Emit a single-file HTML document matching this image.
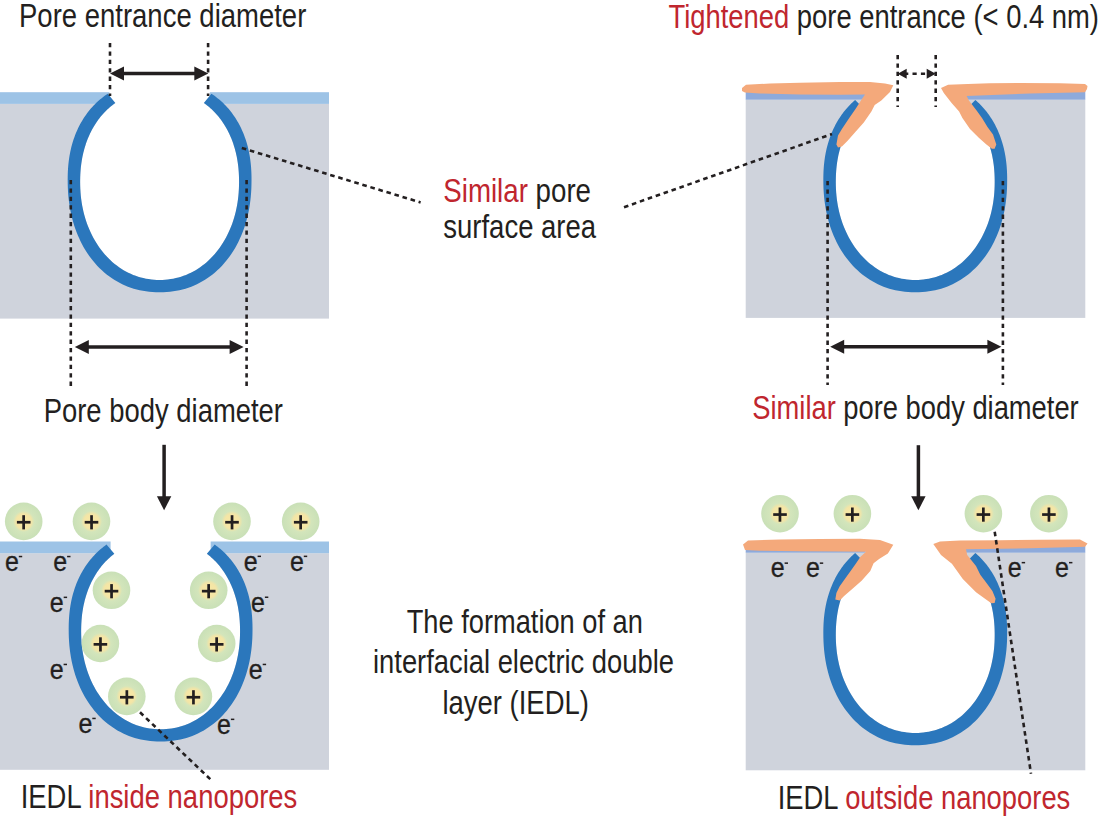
<!DOCTYPE html>
<html><head><meta charset="utf-8"><style>
html,body{margin:0;padding:0;background:#fff;}
svg{display:block;font-family:"Liberation Sans",sans-serif;}
</style></head><body>
<svg width="1114" height="822" viewBox="0 0 1114 822">
<rect width="1114" height="822" fill="#fff"/>
<defs><radialGradient id="ionG" cx="0.5" cy="0.5" r="0.5"><stop offset="0" stop-color="#f8e8a4"/><stop offset="0.40" stop-color="#f4e5a6"/><stop offset="0.56" stop-color="#d3e5bb"/><stop offset="1" stop-color="#c9e0b7"/></radialGradient></defs>
<rect x="0" y="103.9" width="329" height="214.70000000000002" fill="#cfd3dc"/><rect x="0" y="92.2" width="109.69999999999999" height="11.7" fill="#9dc3e6"/><rect x="209.5" y="92.2" width="119.5" height="11.7" fill="#9dc3e6"/><path d="M115.36,102.91 L114.00,103.90 L112.66,104.92 L111.34,105.97 L110.04,107.06 L108.76,108.17 L107.51,109.32 L106.29,110.50 L105.08,111.71 L103.90,112.96 L102.75,114.23 L101.62,115.53 L100.52,116.86 L99.44,118.22 L98.39,119.61 L97.36,121.03 L96.37,122.47 L95.40,123.94 L94.45,125.44 L93.54,126.97 L92.65,128.52 L91.79,130.10 L90.96,131.70 L90.16,133.33 L89.39,134.98 L88.64,136.65 L87.93,138.35 L87.25,140.07 L86.60,141.82 L85.97,143.59 L85.38,145.38 L84.82,147.19 L84.29,149.03 L83.79,150.88 L83.32,152.76 L82.89,154.66 L82.48,156.58 L82.11,158.52 L81.77,160.49 L81.46,162.48 L81.19,164.49 L80.94,166.53 L80.73,168.59 L80.55,170.69 L80.41,172.82 L80.29,175.00 L80.21,177.24 L80.16,179.56 L80.14,182.14 L80.19,185.70 L80.31,189.11 L80.52,192.45 L80.80,195.75 L81.17,199.01 L81.62,202.22 L82.16,205.41 L82.77,208.55 L83.46,211.65 L84.23,214.72 L85.08,217.74 L86.01,220.71 L87.01,223.64 L88.09,226.52 L89.25,229.34 L90.48,232.11 L91.78,234.83 L93.15,237.48 L94.59,240.08 L96.10,242.61 L97.68,245.07 L99.32,247.47 L101.03,249.79 L102.80,252.05 L104.63,254.22 L106.52,256.33 L108.47,258.35 L110.47,260.29 L112.53,262.15 L114.63,263.92 L116.79,265.61 L119.00,267.21 L121.25,268.72 L123.54,270.15 L125.88,271.48 L128.26,272.71 L130.68,273.85 L133.13,274.90 L135.62,275.85 L138.14,276.70 L140.70,277.45 L143.28,278.11 L145.90,278.66 L148.54,279.12 L151.22,279.47 L153.94,279.73 L156.70,279.88 L159.60,279.93 L162.50,279.88 L165.26,279.73 L167.98,279.47 L170.66,279.12 L173.30,278.66 L175.92,278.11 L178.50,277.45 L181.06,276.70 L183.58,275.85 L186.07,274.90 L188.52,273.85 L190.94,272.71 L193.32,271.48 L195.66,270.15 L197.95,268.72 L200.20,267.21 L202.41,265.61 L204.57,263.92 L206.67,262.15 L208.73,260.29 L210.73,258.35 L212.68,256.33 L214.57,254.22 L216.40,252.05 L218.17,249.79 L219.88,247.47 L221.52,245.07 L223.10,242.61 L224.61,240.08 L226.05,237.48 L227.42,234.83 L228.72,232.11 L229.95,229.34 L231.11,226.52 L232.19,223.64 L233.19,220.71 L234.12,217.74 L234.97,214.72 L235.74,211.65 L236.43,208.55 L237.04,205.41 L237.58,202.22 L238.03,199.01 L238.40,195.75 L238.68,192.45 L238.89,189.11 L239.01,185.70 L239.06,182.14 L239.04,179.56 L238.99,177.24 L238.91,175.00 L238.79,172.82 L238.65,170.69 L238.47,168.59 L238.26,166.53 L238.01,164.49 L237.74,162.48 L237.43,160.49 L237.09,158.52 L236.72,156.58 L236.31,154.66 L235.88,152.76 L235.41,150.88 L234.91,149.03 L234.38,147.19 L233.82,145.38 L233.23,143.59 L232.60,141.82 L231.95,140.07 L231.27,138.35 L230.56,136.65 L229.81,134.98 L229.04,133.33 L228.24,131.70 L227.41,130.10 L226.55,128.52 L225.66,126.97 L224.75,125.44 L223.80,123.94 L222.83,122.47 L221.84,121.03 L220.81,119.61 L219.76,118.22 L218.68,116.86 L217.58,115.53 L216.45,114.23 L215.30,112.96 L214.12,111.71 L212.91,110.50 L211.69,109.32 L210.44,108.17 L209.16,107.06 L207.86,105.97 L206.54,104.92 L205.20,103.90 L203.84,102.91 Z" fill="#fff"/><rect x="109.6" y="90" width="100" height="15" fill="#fff"/><path d="M107.79,93.71 L106.23,94.76 L104.69,95.85 L103.18,96.98 L101.70,98.14 L100.24,99.33 L98.81,100.56 L97.41,101.82 L96.03,103.11 L94.69,104.44 L93.37,105.80 L92.08,107.20 L90.82,108.62 L89.60,110.08 L88.40,111.57 L87.23,113.09 L86.10,114.64 L84.99,116.22 L83.92,117.83 L82.88,119.47 L81.87,121.14 L80.89,122.84 L79.95,124.56 L79.04,126.32 L78.16,128.10 L77.32,129.90 L76.51,131.74 L75.73,133.60 L74.99,135.49 L74.29,137.40 L73.62,139.34 L72.98,141.31 L72.38,143.30 L71.81,145.32 L71.28,147.36 L70.79,149.43 L70.33,151.53 L69.91,153.65 L69.52,155.81 L69.17,157.99 L68.86,160.20 L68.58,162.45 L68.34,164.73 L68.14,167.06 L67.98,169.43 L67.85,171.87 L67.75,174.39 L67.70,177.03 L67.68,180.05 L67.73,184.59 L67.86,188.75 L68.10,192.76 L68.42,196.67 L68.83,200.51 L69.34,204.28 L69.93,207.99 L70.62,211.63 L71.40,215.22 L72.26,218.75 L73.22,222.22 L74.26,225.63 L75.38,228.97 L76.60,232.25 L77.90,235.47 L79.28,238.61 L80.74,241.69 L82.29,244.69 L83.91,247.63 L85.61,250.48 L87.39,253.26 L89.25,255.95 L91.18,258.57 L93.18,261.10 L95.26,263.54 L97.40,265.90 L99.61,268.16 L101.88,270.33 L104.22,272.41 L106.63,274.40 L109.09,276.28 L111.61,278.07 L114.19,279.75 L116.82,281.34 L119.51,282.82 L122.25,284.19 L125.04,285.47 L127.89,286.63 L130.78,287.68 L133.72,288.63 L136.71,289.47 L139.74,290.20 L142.83,290.81 L145.98,291.32 L149.19,291.71 L152.47,291.99 L155.88,292.16 L159.60,292.22 L163.32,292.16 L166.73,291.99 L170.01,291.71 L173.22,291.32 L176.37,290.81 L179.46,290.20 L182.49,289.47 L185.48,288.63 L188.42,287.68 L191.31,286.63 L194.16,285.47 L196.95,284.19 L199.69,282.82 L202.38,281.34 L205.01,279.75 L207.59,278.07 L210.11,276.28 L212.57,274.40 L214.98,272.41 L217.32,270.33 L219.59,268.16 L221.80,265.90 L223.94,263.54 L226.02,261.10 L228.02,258.57 L229.95,255.95 L231.81,253.26 L233.59,250.48 L235.29,247.63 L236.91,244.69 L238.46,241.69 L239.92,238.61 L241.30,235.47 L242.60,232.25 L243.82,228.97 L244.94,225.63 L245.98,222.22 L246.94,218.75 L247.80,215.22 L248.58,211.63 L249.27,207.99 L249.86,204.28 L250.37,200.51 L250.78,196.67 L251.10,192.76 L251.34,188.75 L251.47,184.59 L251.52,180.05 L251.50,177.03 L251.45,174.39 L251.35,171.87 L251.22,169.43 L251.06,167.06 L250.86,164.73 L250.62,162.45 L250.34,160.20 L250.03,157.99 L249.68,155.81 L249.29,153.65 L248.87,151.53 L248.41,149.43 L247.92,147.36 L247.39,145.32 L246.82,143.30 L246.22,141.31 L245.58,139.34 L244.91,137.40 L244.21,135.49 L243.47,133.60 L242.69,131.74 L241.88,129.90 L241.04,128.10 L240.16,126.32 L239.25,124.56 L238.31,122.84 L237.33,121.14 L236.32,119.47 L235.28,117.83 L234.21,116.22 L233.10,114.64 L231.97,113.09 L230.80,111.57 L229.60,110.08 L228.38,108.62 L227.12,107.20 L225.83,105.80 L224.51,104.44 L223.17,103.11 L221.79,101.82 L220.39,100.56 L218.96,99.33 L217.50,98.14 L216.02,96.98 L214.51,95.85 L212.97,94.76 L211.41,93.71 L203.84,102.91 L205.20,103.90 L206.54,104.92 L207.86,105.97 L209.16,107.06 L210.44,108.17 L211.69,109.32 L212.91,110.50 L214.12,111.71 L215.30,112.96 L216.45,114.23 L217.58,115.53 L218.68,116.86 L219.76,118.22 L220.81,119.61 L221.84,121.03 L222.83,122.47 L223.80,123.94 L224.75,125.44 L225.66,126.97 L226.55,128.52 L227.41,130.10 L228.24,131.70 L229.04,133.33 L229.81,134.98 L230.56,136.65 L231.27,138.35 L231.95,140.07 L232.60,141.82 L233.23,143.59 L233.82,145.38 L234.38,147.19 L234.91,149.03 L235.41,150.88 L235.88,152.76 L236.31,154.66 L236.72,156.58 L237.09,158.52 L237.43,160.49 L237.74,162.48 L238.01,164.49 L238.26,166.53 L238.47,168.59 L238.65,170.69 L238.79,172.82 L238.91,175.00 L238.99,177.24 L239.04,179.56 L239.06,182.14 L239.01,185.70 L238.89,189.11 L238.68,192.45 L238.40,195.75 L238.03,199.01 L237.58,202.22 L237.04,205.41 L236.43,208.55 L235.74,211.65 L234.97,214.72 L234.12,217.74 L233.19,220.71 L232.19,223.64 L231.11,226.52 L229.95,229.34 L228.72,232.11 L227.42,234.83 L226.05,237.48 L224.61,240.08 L223.10,242.61 L221.52,245.07 L219.88,247.47 L218.17,249.79 L216.40,252.05 L214.57,254.22 L212.68,256.33 L210.73,258.35 L208.73,260.29 L206.67,262.15 L204.57,263.92 L202.41,265.61 L200.20,267.21 L197.95,268.72 L195.66,270.15 L193.32,271.48 L190.94,272.71 L188.52,273.85 L186.07,274.90 L183.58,275.85 L181.06,276.70 L178.50,277.45 L175.92,278.11 L173.30,278.66 L170.66,279.12 L167.98,279.47 L165.26,279.73 L162.50,279.88 L159.60,279.93 L156.70,279.88 L153.94,279.73 L151.22,279.47 L148.54,279.12 L145.90,278.66 L143.28,278.11 L140.70,277.45 L138.14,276.70 L135.62,275.85 L133.13,274.90 L130.68,273.85 L128.26,272.71 L125.88,271.48 L123.54,270.15 L121.25,268.72 L119.00,267.21 L116.79,265.61 L114.63,263.92 L112.53,262.15 L110.47,260.29 L108.47,258.35 L106.52,256.33 L104.63,254.22 L102.80,252.05 L101.03,249.79 L99.32,247.47 L97.68,245.07 L96.10,242.61 L94.59,240.08 L93.15,237.48 L91.78,234.83 L90.48,232.11 L89.25,229.34 L88.09,226.52 L87.01,223.64 L86.01,220.71 L85.08,217.74 L84.23,214.72 L83.46,211.65 L82.77,208.55 L82.16,205.41 L81.62,202.22 L81.17,199.01 L80.80,195.75 L80.52,192.45 L80.31,189.11 L80.19,185.70 L80.14,182.14 L80.16,179.56 L80.21,177.24 L80.29,175.00 L80.41,172.82 L80.55,170.69 L80.73,168.59 L80.94,166.53 L81.19,164.49 L81.46,162.48 L81.77,160.49 L82.11,158.52 L82.48,156.58 L82.89,154.66 L83.32,152.76 L83.79,150.88 L84.29,149.03 L84.82,147.19 L85.38,145.38 L85.97,143.59 L86.60,141.82 L87.25,140.07 L87.93,138.35 L88.64,136.65 L89.39,134.98 L90.16,133.33 L90.96,131.70 L91.79,130.10 L92.65,128.52 L93.54,126.97 L94.45,125.44 L95.40,123.94 L96.37,122.47 L97.36,121.03 L98.39,119.61 L99.44,118.22 L100.52,116.86 L101.62,115.53 L102.75,114.23 L103.90,112.96 L105.08,111.71 L106.29,110.50 L107.51,109.32 L108.76,108.17 L110.04,107.06 L111.34,105.97 L112.66,104.92 L114.00,103.90 L115.36,102.91 Z" fill="#2b77bc"/>
<line x1="110" y1="43" x2="110" y2="96" stroke="#231f20" stroke-width="2.6" stroke-dasharray="4.3 4.1"/>
<line x1="208.1" y1="43" x2="208.1" y2="96" stroke="#231f20" stroke-width="2.6" stroke-dasharray="4.3 4.1"/>
<line x1="123" y1="73.6" x2="195.3" y2="73.6" stroke="#231f20" stroke-width="3.5"/><path d="M110,73.6 L124,66.6 L124,80.6 Z" fill="#231f20"/><path d="M208.3,73.6 L194.3,66.6 L194.3,80.6 Z" fill="#231f20"/>
<line x1="70.8" y1="180" x2="70.8" y2="386" stroke="#231f20" stroke-width="2.6" stroke-dasharray="4.3 4.1"/>
<line x1="246.6" y1="180" x2="246.6" y2="386" stroke="#231f20" stroke-width="2.6" stroke-dasharray="4.3 4.1"/>
<line x1="87.8" y1="347" x2="230.6" y2="347" stroke="#231f20" stroke-width="3.5"/><path d="M74.8,347 L88.8,340 L88.8,354 Z" fill="#231f20"/><path d="M243.6,347 L229.6,340 L229.6,354 Z" fill="#231f20"/>
<text x="19" y="26.5" textLength="287.3" lengthAdjust="spacingAndGlyphs" font-size="33" fill="#231f20">Pore entrance diameter</text>
<text x="43.7" y="421.6" textLength="239.3" lengthAdjust="spacingAndGlyphs" font-size="33" fill="#231f20">Pore body diameter</text>
<line x1="241.8" y1="148" x2="420.6" y2="202.4" stroke="#231f20" stroke-width="2.6" stroke-dasharray="4.6 3.8"/>
<text x="443.3" y="201.7" textLength="147.7" lengthAdjust="spacingAndGlyphs" font-size="33"><tspan fill="#c0262e">Similar</tspan><tspan fill="#231f20"> pore</tspan></text>
<text x="443.3" y="237.6" textLength="152.8" lengthAdjust="spacingAndGlyphs" font-size="33" fill="#231f20">surface area</text>
<rect x="745.7" y="99.5" width="339.6" height="218.39999999999998" fill="#cfd3dc"/><rect x="745.7" y="91" width="120" height="8.7" fill="#8eaadb"/><rect x="966" y="91" width="119.3" height="8.7" fill="#8eaadb"/><path d="M863.79,108.74 L862.69,109.77 L861.61,110.82 L860.55,111.90 L859.51,113.00 L858.49,114.13 L857.49,115.28 L856.50,116.45 L855.54,117.64 L854.60,118.86 L853.68,120.10 L852.78,121.36 L851.90,122.65 L851.04,123.95 L850.20,125.28 L849.39,126.63 L848.60,127.99 L847.82,129.38 L847.08,130.79 L846.35,132.22 L845.65,133.66 L844.97,135.13 L844.31,136.61 L843.68,138.12 L843.07,139.64 L842.48,141.18 L841.92,142.73 L841.38,144.31 L840.87,145.90 L840.38,147.51 L839.91,149.14 L839.47,150.78 L839.05,152.44 L838.66,154.12 L838.29,155.81 L837.95,157.52 L837.63,159.25 L837.34,161.00 L837.07,162.77 L836.83,164.55 L836.61,166.35 L836.42,168.18 L836.26,170.03 L836.11,171.91 L836.00,173.82 L835.91,175.76 L835.85,177.76 L835.81,179.83 L835.79,182.14 L835.84,185.70 L835.96,189.11 L836.17,192.45 L836.45,195.75 L836.82,199.01 L837.27,202.22 L837.81,205.41 L838.42,208.55 L839.11,211.65 L839.88,214.72 L840.73,217.74 L841.66,220.71 L842.66,223.64 L843.74,226.52 L844.90,229.34 L846.13,232.11 L847.43,234.83 L848.80,237.48 L850.24,240.08 L851.75,242.61 L853.33,245.07 L854.97,247.47 L856.68,249.79 L858.45,252.05 L860.28,254.22 L862.17,256.33 L864.12,258.35 L866.12,260.29 L868.18,262.15 L870.28,263.92 L872.44,265.61 L874.65,267.21 L876.90,268.72 L879.19,270.15 L881.53,271.48 L883.91,272.71 L886.33,273.85 L888.78,274.90 L891.27,275.85 L893.79,276.70 L896.35,277.45 L898.93,278.11 L901.55,278.66 L904.19,279.12 L906.87,279.47 L909.59,279.73 L912.35,279.88 L915.25,279.93 L918.15,279.88 L920.91,279.73 L923.63,279.47 L926.31,279.12 L928.95,278.66 L931.57,278.11 L934.15,277.45 L936.71,276.70 L939.23,275.85 L941.72,274.90 L944.17,273.85 L946.59,272.71 L948.97,271.48 L951.31,270.15 L953.60,268.72 L955.85,267.21 L958.06,265.61 L960.22,263.92 L962.32,262.15 L964.38,260.29 L966.38,258.35 L968.33,256.33 L970.22,254.22 L972.05,252.05 L973.82,249.79 L975.53,247.47 L977.17,245.07 L978.75,242.61 L980.26,240.08 L981.70,237.48 L983.07,234.83 L984.37,232.11 L985.60,229.34 L986.76,226.52 L987.84,223.64 L988.84,220.71 L989.77,217.74 L990.62,214.72 L991.39,211.65 L992.08,208.55 L992.69,205.41 L993.23,202.22 L993.68,199.01 L994.05,195.75 L994.33,192.45 L994.54,189.11 L994.66,185.70 L994.71,182.14 L994.69,179.83 L994.65,177.76 L994.59,175.76 L994.50,173.82 L994.39,171.91 L994.24,170.03 L994.08,168.18 L993.89,166.35 L993.67,164.55 L993.43,162.77 L993.16,161.00 L992.87,159.25 L992.55,157.52 L992.21,155.81 L991.84,154.12 L991.45,152.44 L991.03,150.78 L990.59,149.14 L990.12,147.51 L989.63,145.90 L989.12,144.31 L988.58,142.73 L988.02,141.18 L987.43,139.64 L986.82,138.12 L986.19,136.61 L985.53,135.13 L984.85,133.66 L984.15,132.22 L983.42,130.79 L982.68,129.38 L981.90,127.99 L981.11,126.63 L980.30,125.28 L979.46,123.95 L978.60,122.65 L977.72,121.36 L976.82,120.10 L975.90,118.86 L974.96,117.64 L974.00,116.45 L973.01,115.28 L972.01,114.13 L970.99,113.00 L969.95,111.90 L968.89,110.82 L967.81,109.77 L966.71,108.74 Z" fill="#fff"/><rect x="866" y="99" width="98" height="16" fill="#fff"/><path d="M855.18,99.93 L853.92,101.03 L852.69,102.16 L851.48,103.31 L850.29,104.49 L849.12,105.70 L847.98,106.93 L846.86,108.18 L845.76,109.46 L844.69,110.77 L843.64,112.10 L842.61,113.45 L841.61,114.83 L840.63,116.23 L839.68,117.66 L838.76,119.10 L837.86,120.57 L836.98,122.07 L836.13,123.58 L835.30,125.12 L834.51,126.68 L833.73,128.26 L832.99,129.86 L832.27,131.48 L831.58,133.13 L830.91,134.79 L830.27,136.48 L829.66,138.18 L829.08,139.91 L828.52,141.65 L827.99,143.42 L827.49,145.21 L827.02,147.02 L826.57,148.84 L826.16,150.69 L825.77,152.56 L825.41,154.45 L825.08,156.37 L824.78,158.31 L824.50,160.27 L824.26,162.26 L824.04,164.28 L823.85,166.33 L823.69,168.41 L823.56,170.54 L823.46,172.72 L823.39,174.98 L823.34,177.35 L823.33,180.05 L823.38,184.59 L823.51,188.75 L823.75,192.76 L824.07,196.67 L824.48,200.51 L824.99,204.28 L825.58,207.99 L826.27,211.63 L827.05,215.22 L827.91,218.75 L828.87,222.22 L829.91,225.63 L831.03,228.97 L832.25,232.25 L833.55,235.47 L834.93,238.61 L836.39,241.69 L837.94,244.69 L839.56,247.63 L841.26,250.48 L843.04,253.26 L844.90,255.95 L846.83,258.57 L848.83,261.10 L850.91,263.54 L853.05,265.90 L855.26,268.16 L857.53,270.33 L859.87,272.41 L862.28,274.40 L864.74,276.28 L867.26,278.07 L869.84,279.75 L872.47,281.34 L875.16,282.82 L877.90,284.19 L880.69,285.47 L883.54,286.63 L886.43,287.68 L889.37,288.63 L892.36,289.47 L895.39,290.20 L898.48,290.81 L901.63,291.32 L904.84,291.71 L908.12,291.99 L911.53,292.16 L915.25,292.22 L918.97,292.16 L922.38,291.99 L925.66,291.71 L928.87,291.32 L932.02,290.81 L935.11,290.20 L938.14,289.47 L941.13,288.63 L944.07,287.68 L946.96,286.63 L949.81,285.47 L952.60,284.19 L955.34,282.82 L958.03,281.34 L960.66,279.75 L963.24,278.07 L965.76,276.28 L968.22,274.40 L970.63,272.41 L972.97,270.33 L975.24,268.16 L977.45,265.90 L979.59,263.54 L981.67,261.10 L983.67,258.57 L985.60,255.95 L987.46,253.26 L989.24,250.48 L990.94,247.63 L992.56,244.69 L994.11,241.69 L995.57,238.61 L996.95,235.47 L998.25,232.25 L999.47,228.97 L1000.59,225.63 L1001.63,222.22 L1002.59,218.75 L1003.45,215.22 L1004.23,211.63 L1004.92,207.99 L1005.51,204.28 L1006.02,200.51 L1006.43,196.67 L1006.75,192.76 L1006.99,188.75 L1007.12,184.59 L1007.17,180.05 L1007.16,177.35 L1007.11,174.98 L1007.04,172.72 L1006.94,170.54 L1006.81,168.41 L1006.65,166.33 L1006.46,164.28 L1006.24,162.26 L1006.00,160.27 L1005.72,158.31 L1005.42,156.37 L1005.09,154.45 L1004.73,152.56 L1004.34,150.69 L1003.93,148.84 L1003.48,147.02 L1003.01,145.21 L1002.51,143.42 L1001.98,141.65 L1001.42,139.91 L1000.84,138.18 L1000.23,136.48 L999.59,134.79 L998.92,133.13 L998.23,131.48 L997.51,129.86 L996.77,128.26 L995.99,126.68 L995.20,125.12 L994.37,123.58 L993.52,122.07 L992.64,120.57 L991.74,119.10 L990.82,117.66 L989.87,116.23 L988.89,114.83 L987.89,113.45 L986.86,112.10 L985.81,110.77 L984.74,109.46 L983.64,108.18 L982.52,106.93 L981.38,105.70 L980.21,104.49 L979.02,103.31 L977.81,102.16 L976.58,101.03 L975.32,99.93 L966.71,108.74 L967.81,109.77 L968.89,110.82 L969.95,111.90 L970.99,113.00 L972.01,114.13 L973.01,115.28 L974.00,116.45 L974.96,117.64 L975.90,118.86 L976.82,120.10 L977.72,121.36 L978.60,122.65 L979.46,123.95 L980.30,125.28 L981.11,126.63 L981.90,127.99 L982.68,129.38 L983.42,130.79 L984.15,132.22 L984.85,133.66 L985.53,135.13 L986.19,136.61 L986.82,138.12 L987.43,139.64 L988.02,141.18 L988.58,142.73 L989.12,144.31 L989.63,145.90 L990.12,147.51 L990.59,149.14 L991.03,150.78 L991.45,152.44 L991.84,154.12 L992.21,155.81 L992.55,157.52 L992.87,159.25 L993.16,161.00 L993.43,162.77 L993.67,164.55 L993.89,166.35 L994.08,168.18 L994.24,170.03 L994.39,171.91 L994.50,173.82 L994.59,175.76 L994.65,177.76 L994.69,179.83 L994.71,182.14 L994.66,185.70 L994.54,189.11 L994.33,192.45 L994.05,195.75 L993.68,199.01 L993.23,202.22 L992.69,205.41 L992.08,208.55 L991.39,211.65 L990.62,214.72 L989.77,217.74 L988.84,220.71 L987.84,223.64 L986.76,226.52 L985.60,229.34 L984.37,232.11 L983.07,234.83 L981.70,237.48 L980.26,240.08 L978.75,242.61 L977.17,245.07 L975.53,247.47 L973.82,249.79 L972.05,252.05 L970.22,254.22 L968.33,256.33 L966.38,258.35 L964.38,260.29 L962.32,262.15 L960.22,263.92 L958.06,265.61 L955.85,267.21 L953.60,268.72 L951.31,270.15 L948.97,271.48 L946.59,272.71 L944.17,273.85 L941.72,274.90 L939.23,275.85 L936.71,276.70 L934.15,277.45 L931.57,278.11 L928.95,278.66 L926.31,279.12 L923.63,279.47 L920.91,279.73 L918.15,279.88 L915.25,279.93 L912.35,279.88 L909.59,279.73 L906.87,279.47 L904.19,279.12 L901.55,278.66 L898.93,278.11 L896.35,277.45 L893.79,276.70 L891.27,275.85 L888.78,274.90 L886.33,273.85 L883.91,272.71 L881.53,271.48 L879.19,270.15 L876.90,268.72 L874.65,267.21 L872.44,265.61 L870.28,263.92 L868.18,262.15 L866.12,260.29 L864.12,258.35 L862.17,256.33 L860.28,254.22 L858.45,252.05 L856.68,249.79 L854.97,247.47 L853.33,245.07 L851.75,242.61 L850.24,240.08 L848.80,237.48 L847.43,234.83 L846.13,232.11 L844.90,229.34 L843.74,226.52 L842.66,223.64 L841.66,220.71 L840.73,217.74 L839.88,214.72 L839.11,211.65 L838.42,208.55 L837.81,205.41 L837.27,202.22 L836.82,199.01 L836.45,195.75 L836.17,192.45 L835.96,189.11 L835.84,185.70 L835.79,182.14 L835.81,179.83 L835.85,177.76 L835.91,175.76 L836.00,173.82 L836.11,171.91 L836.26,170.03 L836.42,168.18 L836.61,166.35 L836.83,164.55 L837.07,162.77 L837.34,161.00 L837.63,159.25 L837.95,157.52 L838.29,155.81 L838.66,154.12 L839.05,152.44 L839.47,150.78 L839.91,149.14 L840.38,147.51 L840.87,145.90 L841.38,144.31 L841.92,142.73 L842.48,141.18 L843.07,139.64 L843.68,138.12 L844.31,136.61 L844.97,135.13 L845.65,133.66 L846.35,132.22 L847.08,130.79 L847.82,129.38 L848.60,127.99 L849.39,126.63 L850.20,125.28 L851.04,123.95 L851.90,122.65 L852.78,121.36 L853.68,120.10 L854.60,118.86 L855.54,117.64 L856.50,116.45 L857.49,115.28 L858.49,114.13 L859.51,113.00 L860.55,111.90 L861.61,110.82 L862.69,109.77 L863.79,108.74 Z" fill="#2b77bc"/><path d="M742,88 L746,84.8 L770,83.5 L800,82.8 L840,82 L870,82 L885,83.5 L893.3,85.3 L890,91.9 L881.3,100.6 L874.7,105 L871.4,111.6 L863.8,122.5 L856,131.3 L847.4,141.1 L841.9,146.6 L838,147.5 L836.4,144.4 L838,135.6 L841.9,129 L848.4,119.2 L856,108.3 L861.6,99.5 L865,94.5 L840,94.8 L800,94.6 L760,93.5 L745,92.5 L742,91 Z" fill="#f4a97b"/><path d="M941,88 L948.1,84.8 L967.8,84 L989.7,83.3 L1020,83 L1060,83.3 L1085,84 L1087.5,86 L1087,89 L1085,92.3 L1030,93.5 L966.7,96 L968.9,100.6 L976.6,110.5 L982,118.1 L987.5,126.9 L993,134.6 L996.3,144.4 L994.6,148.8 L991.9,148.8 L986.4,144.4 L978.8,137.8 L970,129.1 L962.4,118.1 L959.1,111.6 L951.4,102.8 L943.8,93 Z" fill="#f4a97b"/>
<line x1="624" y1="207.2" x2="832" y2="134" stroke="#231f20" stroke-width="2.6" stroke-dasharray="4.6 3.8"/>
<line x1="897.7" y1="55" x2="897.7" y2="107" stroke="#231f20" stroke-width="2.6" stroke-dasharray="4.3 4.1"/>
<line x1="935.7" y1="55" x2="935.7" y2="107" stroke="#231f20" stroke-width="2.6" stroke-dasharray="4.3 4.1"/>
<line x1="905.7" y1="73.7" x2="927.7" y2="73.7" stroke="#231f20" stroke-width="2.5" stroke-dasharray="2.6 4.2 4.2 4.2 4.2 4.2"/><path d="M897.7,73.7 L906.7,68.7 L906.7,78.7 Z" fill="#231f20"/><path d="M935.7,73.7 L926.7,68.7 L926.7,78.7 Z" fill="#231f20"/>
<line x1="827.6" y1="181" x2="827.6" y2="385" stroke="#231f20" stroke-width="2.6" stroke-dasharray="4.3 4.1"/>
<line x1="1002.9" y1="181" x2="1002.9" y2="385" stroke="#231f20" stroke-width="2.6" stroke-dasharray="4.3 4.1"/>
<line x1="843.2" y1="346.7" x2="988.4" y2="346.7" stroke="#231f20" stroke-width="3.5"/><path d="M830.2,346.7 L844.2,339.7 L844.2,353.7 Z" fill="#231f20"/><path d="M1001.4,346.7 L987.4,339.7 L987.4,353.7 Z" fill="#231f20"/>
<text x="668.5" y="27.7" textLength="430.5" lengthAdjust="spacingAndGlyphs" font-size="33"><tspan fill="#c0262e">Tightened</tspan><tspan fill="#231f20"> pore entrance (&lt; 0.4 nm)</tspan></text>
<text x="752.3" y="419.1" textLength="326.4" lengthAdjust="spacingAndGlyphs" font-size="33"><tspan fill="#c0262e">Similar</tspan><tspan fill="#231f20"> pore body diameter</tspan></text>
<line x1="164.1" y1="444.8" x2="164.1" y2="498.3" stroke="#231f20" stroke-width="3.5"/><path d="M164.1,510.3 L156.9,496.3 L171.29999999999998,496.3 Z" fill="#231f20"/>
<line x1="918.4" y1="445.2" x2="918.4" y2="498.3" stroke="#231f20" stroke-width="3.5"/><path d="M918.4,510.3 L911.1999999999999,496.3 L925.6,496.3 Z" fill="#231f20"/>
<rect x="0" y="553.2" width="329" height="216.6" fill="#cfd3dc"/><rect x="0" y="541.5" width="111.1" height="11.7" fill="#9dc3e6"/><rect x="210.1" y="541.5" width="118.9" height="11.7" fill="#9dc3e6"/><path d="M114.35,553.69 L113.06,554.69 L111.79,555.72 L110.54,556.79 L109.31,557.88 L108.11,559.01 L106.93,560.16 L105.77,561.34 L104.63,562.55 L103.52,563.79 L102.43,565.06 L101.36,566.35 L100.32,567.68 L99.30,569.02 L98.31,570.40 L97.35,571.80 L96.41,573.23 L95.49,574.68 L94.60,576.16 L93.74,577.66 L92.90,579.18 L92.10,580.73 L91.31,582.30 L90.56,583.90 L89.83,585.52 L89.13,587.16 L88.46,588.82 L87.82,590.50 L87.21,592.21 L86.62,593.94 L86.07,595.68 L85.54,597.45 L85.04,599.24 L84.57,601.05 L84.13,602.88 L83.72,604.73 L83.34,606.60 L82.99,608.49 L82.67,610.40 L82.38,612.33 L82.12,614.29 L81.89,616.27 L81.70,618.28 L81.53,620.32 L81.39,622.39 L81.28,624.51 L81.21,626.68 L81.16,628.93 L81.14,631.44 L81.19,635.00 L81.31,638.41 L81.52,641.75 L81.80,645.05 L82.17,648.31 L82.62,651.52 L83.16,654.71 L83.77,657.85 L84.46,660.95 L85.23,664.02 L86.08,667.04 L87.01,670.01 L88.01,672.94 L89.09,675.82 L90.25,678.64 L91.48,681.41 L92.78,684.13 L94.15,686.78 L95.59,689.38 L97.10,691.91 L98.68,694.37 L100.32,696.77 L102.03,699.09 L103.80,701.35 L105.63,703.52 L107.52,705.63 L109.47,707.65 L111.47,709.59 L113.53,711.45 L115.63,713.22 L117.79,714.91 L120.00,716.51 L122.25,718.02 L124.54,719.45 L126.88,720.78 L129.26,722.01 L131.68,723.15 L134.13,724.20 L136.62,725.15 L139.14,726.00 L141.70,726.75 L144.28,727.41 L146.90,727.96 L149.54,728.42 L152.22,728.77 L154.94,729.03 L157.70,729.18 L160.60,729.23 L163.50,729.18 L166.26,729.03 L168.98,728.77 L171.66,728.42 L174.30,727.96 L176.92,727.41 L179.50,726.75 L182.06,726.00 L184.58,725.15 L187.07,724.20 L189.52,723.15 L191.94,722.01 L194.32,720.78 L196.66,719.45 L198.95,718.02 L201.20,716.51 L203.41,714.91 L205.57,713.22 L207.67,711.45 L209.73,709.59 L211.73,707.65 L213.68,705.63 L215.57,703.52 L217.40,701.35 L219.17,699.09 L220.88,696.77 L222.52,694.37 L224.10,691.91 L225.61,689.38 L227.05,686.78 L228.42,684.13 L229.72,681.41 L230.95,678.64 L232.11,675.82 L233.19,672.94 L234.19,670.01 L235.12,667.04 L235.97,664.02 L236.74,660.95 L237.43,657.85 L238.04,654.71 L238.58,651.52 L239.03,648.31 L239.40,645.05 L239.68,641.75 L239.89,638.41 L240.01,635.00 L240.06,631.44 L240.04,628.93 L239.99,626.68 L239.92,624.51 L239.81,622.39 L239.67,620.32 L239.50,618.28 L239.31,616.27 L239.08,614.29 L238.82,612.33 L238.53,610.40 L238.21,608.49 L237.86,606.60 L237.48,604.73 L237.07,602.88 L236.63,601.05 L236.16,599.24 L235.66,597.45 L235.13,595.68 L234.58,593.94 L233.99,592.21 L233.38,590.50 L232.74,588.82 L232.07,587.16 L231.37,585.52 L230.64,583.90 L229.89,582.30 L229.10,580.73 L228.30,579.18 L227.46,577.66 L226.60,576.16 L225.71,574.68 L224.79,573.23 L223.85,571.80 L222.89,570.40 L221.90,569.02 L220.88,567.68 L219.84,566.35 L218.77,565.06 L217.68,563.79 L216.57,562.55 L215.43,561.34 L214.27,560.16 L213.09,559.01 L211.89,557.88 L210.66,556.79 L209.41,555.72 L208.14,554.69 L206.85,553.69 Z" fill="#fff"/><rect x="110.6" y="539.3" width="100" height="15" fill="#fff"/><path d="M106.48,544.59 L105.01,545.66 L103.55,546.76 L102.12,547.90 L100.72,549.07 L99.34,550.27 L97.99,551.50 L96.67,552.77 L95.37,554.06 L94.10,555.39 L92.86,556.74 L91.65,558.13 L90.46,559.55 L89.30,560.99 L88.17,562.47 L87.07,563.97 L86.00,565.50 L84.96,567.06 L83.95,568.65 L82.97,570.26 L82.02,571.91 L81.10,573.57 L80.22,575.27 L79.36,576.99 L78.53,578.73 L77.74,580.50 L76.98,582.30 L76.25,584.12 L75.55,585.97 L74.89,587.84 L74.26,589.73 L73.66,591.65 L73.09,593.59 L72.56,595.56 L72.06,597.55 L71.60,599.57 L71.17,601.61 L70.77,603.68 L70.41,605.78 L70.08,607.90 L69.79,610.05 L69.53,612.24 L69.30,614.46 L69.11,616.72 L68.96,619.03 L68.84,621.40 L68.75,623.85 L68.70,626.41 L68.68,629.35 L68.73,633.89 L68.86,638.05 L69.10,642.06 L69.42,645.97 L69.83,649.81 L70.34,653.58 L70.93,657.29 L71.62,660.93 L72.40,664.52 L73.26,668.05 L74.22,671.52 L75.26,674.93 L76.38,678.27 L77.60,681.55 L78.90,684.77 L80.28,687.91 L81.74,690.99 L83.29,693.99 L84.91,696.93 L86.61,699.78 L88.39,702.56 L90.25,705.25 L92.18,707.87 L94.18,710.40 L96.26,712.84 L98.40,715.20 L100.61,717.46 L102.88,719.63 L105.22,721.71 L107.63,723.70 L110.09,725.58 L112.61,727.37 L115.19,729.05 L117.82,730.64 L120.51,732.12 L123.25,733.49 L126.04,734.77 L128.89,735.93 L131.78,736.98 L134.72,737.93 L137.71,738.77 L140.74,739.50 L143.83,740.11 L146.98,740.62 L150.19,741.01 L153.47,741.29 L156.88,741.46 L160.60,741.52 L164.32,741.46 L167.73,741.29 L171.01,741.01 L174.22,740.62 L177.37,740.11 L180.46,739.50 L183.49,738.77 L186.48,737.93 L189.42,736.98 L192.31,735.93 L195.16,734.77 L197.95,733.49 L200.69,732.12 L203.38,730.64 L206.01,729.05 L208.59,727.37 L211.11,725.58 L213.57,723.70 L215.98,721.71 L218.32,719.63 L220.59,717.46 L222.80,715.20 L224.94,712.84 L227.02,710.40 L229.02,707.87 L230.95,705.25 L232.81,702.56 L234.59,699.78 L236.29,696.93 L237.91,693.99 L239.46,690.99 L240.92,687.91 L242.30,684.77 L243.60,681.55 L244.82,678.27 L245.94,674.93 L246.98,671.52 L247.94,668.05 L248.80,664.52 L249.58,660.93 L250.27,657.29 L250.86,653.58 L251.37,649.81 L251.78,645.97 L252.10,642.06 L252.34,638.05 L252.47,633.89 L252.52,629.35 L252.50,626.41 L252.45,623.85 L252.36,621.40 L252.24,619.03 L252.09,616.72 L251.90,614.46 L251.67,612.24 L251.41,610.05 L251.12,607.90 L250.79,605.78 L250.43,603.68 L250.03,601.61 L249.60,599.57 L249.14,597.55 L248.64,595.56 L248.11,593.59 L247.54,591.65 L246.94,589.73 L246.31,587.84 L245.65,585.97 L244.95,584.12 L244.22,582.30 L243.46,580.50 L242.67,578.73 L241.84,576.99 L240.98,575.27 L240.10,573.57 L239.18,571.91 L238.23,570.26 L237.25,568.65 L236.24,567.06 L235.20,565.50 L234.13,563.97 L233.03,562.47 L231.90,560.99 L230.74,559.55 L229.55,558.13 L228.34,556.74 L227.10,555.39 L225.83,554.06 L224.53,552.77 L223.21,551.50 L221.86,550.27 L220.48,549.07 L219.08,547.90 L217.65,546.76 L216.19,545.66 L214.72,544.59 L206.85,553.69 L208.14,554.69 L209.41,555.72 L210.66,556.79 L211.89,557.88 L213.09,559.01 L214.27,560.16 L215.43,561.34 L216.57,562.55 L217.68,563.79 L218.77,565.06 L219.84,566.35 L220.88,567.68 L221.90,569.02 L222.89,570.40 L223.85,571.80 L224.79,573.23 L225.71,574.68 L226.60,576.16 L227.46,577.66 L228.30,579.18 L229.10,580.73 L229.89,582.30 L230.64,583.90 L231.37,585.52 L232.07,587.16 L232.74,588.82 L233.38,590.50 L233.99,592.21 L234.58,593.94 L235.13,595.68 L235.66,597.45 L236.16,599.24 L236.63,601.05 L237.07,602.88 L237.48,604.73 L237.86,606.60 L238.21,608.49 L238.53,610.40 L238.82,612.33 L239.08,614.29 L239.31,616.27 L239.50,618.28 L239.67,620.32 L239.81,622.39 L239.92,624.51 L239.99,626.68 L240.04,628.93 L240.06,631.44 L240.01,635.00 L239.89,638.41 L239.68,641.75 L239.40,645.05 L239.03,648.31 L238.58,651.52 L238.04,654.71 L237.43,657.85 L236.74,660.95 L235.97,664.02 L235.12,667.04 L234.19,670.01 L233.19,672.94 L232.11,675.82 L230.95,678.64 L229.72,681.41 L228.42,684.13 L227.05,686.78 L225.61,689.38 L224.10,691.91 L222.52,694.37 L220.88,696.77 L219.17,699.09 L217.40,701.35 L215.57,703.52 L213.68,705.63 L211.73,707.65 L209.73,709.59 L207.67,711.45 L205.57,713.22 L203.41,714.91 L201.20,716.51 L198.95,718.02 L196.66,719.45 L194.32,720.78 L191.94,722.01 L189.52,723.15 L187.07,724.20 L184.58,725.15 L182.06,726.00 L179.50,726.75 L176.92,727.41 L174.30,727.96 L171.66,728.42 L168.98,728.77 L166.26,729.03 L163.50,729.18 L160.60,729.23 L157.70,729.18 L154.94,729.03 L152.22,728.77 L149.54,728.42 L146.90,727.96 L144.28,727.41 L141.70,726.75 L139.14,726.00 L136.62,725.15 L134.13,724.20 L131.68,723.15 L129.26,722.01 L126.88,720.78 L124.54,719.45 L122.25,718.02 L120.00,716.51 L117.79,714.91 L115.63,713.22 L113.53,711.45 L111.47,709.59 L109.47,707.65 L107.52,705.63 L105.63,703.52 L103.80,701.35 L102.03,699.09 L100.32,696.77 L98.68,694.37 L97.10,691.91 L95.59,689.38 L94.15,686.78 L92.78,684.13 L91.48,681.41 L90.25,678.64 L89.09,675.82 L88.01,672.94 L87.01,670.01 L86.08,667.04 L85.23,664.02 L84.46,660.95 L83.77,657.85 L83.16,654.71 L82.62,651.52 L82.17,648.31 L81.80,645.05 L81.52,641.75 L81.31,638.41 L81.19,635.00 L81.14,631.44 L81.16,628.93 L81.21,626.68 L81.28,624.51 L81.39,622.39 L81.53,620.32 L81.70,618.28 L81.89,616.27 L82.12,614.29 L82.38,612.33 L82.67,610.40 L82.99,608.49 L83.34,606.60 L83.72,604.73 L84.13,602.88 L84.57,601.05 L85.04,599.24 L85.54,597.45 L86.07,595.68 L86.62,593.94 L87.21,592.21 L87.82,590.50 L88.46,588.82 L89.13,587.16 L89.83,585.52 L90.56,583.90 L91.31,582.30 L92.10,580.73 L92.90,579.18 L93.74,577.66 L94.60,576.16 L95.49,574.68 L96.41,573.23 L97.35,571.80 L98.31,570.40 L99.30,569.02 L100.32,567.68 L101.36,566.35 L102.43,565.06 L103.52,563.79 L104.63,562.55 L105.77,561.34 L106.93,560.16 L108.11,559.01 L109.31,557.88 L110.54,556.79 L111.79,555.72 L113.06,554.69 L114.35,553.69 Z" fill="#2b77bc"/>
<circle cx="23.7" cy="521.4" r="18.8" fill="url(#ionG)"/><rect x="16.9" y="520.9" width="13.6" height="2.7" fill="#231f20"/><rect x="22.3" y="515.2" width="2.7" height="14.2" fill="#231f20"/>
<circle cx="91.5" cy="521.4" r="18.8" fill="url(#ionG)"/><rect x="84.7" y="520.9" width="13.6" height="2.7" fill="#231f20"/><rect x="90.2" y="515.2" width="2.7" height="14.2" fill="#231f20"/>
<circle cx="232" cy="521.4" r="18.8" fill="url(#ionG)"/><rect x="225.2" y="520.9" width="13.6" height="2.7" fill="#231f20"/><rect x="230.7" y="515.2" width="2.7" height="14.2" fill="#231f20"/>
<circle cx="300.7" cy="521.4" r="18.8" fill="url(#ionG)"/><rect x="293.9" y="520.9" width="13.6" height="2.7" fill="#231f20"/><rect x="299.3" y="515.2" width="2.7" height="14.2" fill="#231f20"/>
<circle cx="111.5" cy="590.3" r="18.8" fill="url(#ionG)"/><rect x="104.7" y="589.8" width="13.6" height="2.7" fill="#231f20"/><rect x="110.2" y="584.1" width="2.7" height="14.2" fill="#231f20"/>
<circle cx="208.7" cy="590.3" r="18.8" fill="url(#ionG)"/><rect x="201.9" y="589.8" width="13.6" height="2.7" fill="#231f20"/><rect x="207.3" y="584.1" width="2.7" height="14.2" fill="#231f20"/>
<circle cx="100.4" cy="643.5" r="18.8" fill="url(#ionG)"/><rect x="93.6" y="643.0" width="13.6" height="2.7" fill="#231f20"/><rect x="99.1" y="637.3" width="2.7" height="14.2" fill="#231f20"/>
<circle cx="216.7" cy="643.5" r="18.8" fill="url(#ionG)"/><rect x="209.9" y="643.0" width="13.6" height="2.7" fill="#231f20"/><rect x="215.3" y="637.3" width="2.7" height="14.2" fill="#231f20"/>
<circle cx="126.8" cy="696.4" r="18.8" fill="url(#ionG)"/><rect x="120.0" y="695.9" width="13.6" height="2.7" fill="#231f20"/><rect x="125.5" y="690.2" width="2.7" height="14.2" fill="#231f20"/>
<circle cx="193.4" cy="696.4" r="18.8" fill="url(#ionG)"/><rect x="186.6" y="695.9" width="13.6" height="2.7" fill="#231f20"/><rect x="192.1" y="690.2" width="2.7" height="14.2" fill="#231f20"/>
<text x="4.9" y="570.8" font-size="28" textLength="13.9" lengthAdjust="spacingAndGlyphs" fill="#231f20" stroke="#231f20" stroke-width="0.35">e</text><rect x="18.8" y="555.8" width="3.4" height="1.5" fill="#231f20"/>
<text x="53.2" y="570.8" font-size="28" textLength="13.9" lengthAdjust="spacingAndGlyphs" fill="#231f20" stroke="#231f20" stroke-width="0.35">e</text><rect x="67.1" y="555.8" width="3.4" height="1.5" fill="#231f20"/>
<text x="243.7" y="570.6" font-size="28" textLength="13.9" lengthAdjust="spacingAndGlyphs" fill="#231f20" stroke="#231f20" stroke-width="0.35">e</text><rect x="257.6" y="555.6" width="3.4" height="1.5" fill="#231f20"/>
<text x="289.9" y="570.6" font-size="28" textLength="13.9" lengthAdjust="spacingAndGlyphs" fill="#231f20" stroke="#231f20" stroke-width="0.35">e</text><rect x="303.8" y="555.6" width="3.4" height="1.5" fill="#231f20"/>
<text x="49.8" y="611.6" font-size="28" textLength="13.9" lengthAdjust="spacingAndGlyphs" fill="#231f20" stroke="#231f20" stroke-width="0.35">e</text><rect x="63.7" y="596.6" width="3.4" height="1.5" fill="#231f20"/>
<text x="49.7" y="678.7" font-size="28" textLength="13.9" lengthAdjust="spacingAndGlyphs" fill="#231f20" stroke="#231f20" stroke-width="0.35">e</text><rect x="63.6" y="663.7" width="3.4" height="1.5" fill="#231f20"/>
<text x="78.4" y="732.7" font-size="28" textLength="13.9" lengthAdjust="spacingAndGlyphs" fill="#231f20" stroke="#231f20" stroke-width="0.35">e</text><rect x="92.3" y="717.7" width="3.4" height="1.5" fill="#231f20"/>
<text x="251.0" y="611.5" font-size="28" textLength="13.9" lengthAdjust="spacingAndGlyphs" fill="#231f20" stroke="#231f20" stroke-width="0.35">e</text><rect x="264.9" y="596.5" width="3.4" height="1.5" fill="#231f20"/>
<text x="248.8" y="678.7" font-size="28" textLength="13.9" lengthAdjust="spacingAndGlyphs" fill="#231f20" stroke="#231f20" stroke-width="0.35">e</text><rect x="262.7" y="663.7" width="3.4" height="1.5" fill="#231f20"/>
<text x="217.0" y="733.6" font-size="28" textLength="13.9" lengthAdjust="spacingAndGlyphs" fill="#231f20" stroke="#231f20" stroke-width="0.35">e</text><rect x="230.9" y="718.6" width="3.4" height="1.5" fill="#231f20"/>
<line x1="140" y1="712.3" x2="210.3" y2="779.2" stroke="#231f20" stroke-width="2.6" stroke-dasharray="4.6 3.8"/>
<text x="20.7" y="808" textLength="276.6" lengthAdjust="spacingAndGlyphs" font-size="33"><tspan fill="#231f20">IEDL </tspan><tspan fill="#c0262e">inside nanopores</tspan></text>
<text x="406.7" y="632.7" textLength="236.2" lengthAdjust="spacingAndGlyphs" font-size="33" fill="#231f20">The formation of an</text>
<text x="373" y="673" textLength="301" lengthAdjust="spacingAndGlyphs" font-size="33" fill="#231f20">interfacial electric double</text>
<text x="442.5" y="713.6" textLength="146.4" lengthAdjust="spacingAndGlyphs" font-size="33" fill="#231f20">layer (IEDL)</text>
<rect x="745.7" y="552.5" width="339.6" height="217.79999999999995" fill="#cfd3dc"/><rect x="745.7" y="544" width="120" height="8.7" fill="#8eaadb"/><rect x="966" y="544" width="119.3" height="8.7" fill="#8eaadb"/><path d="M863.79,561.74 L862.69,562.77 L861.61,563.82 L860.55,564.90 L859.51,566.00 L858.49,567.13 L857.49,568.28 L856.50,569.45 L855.54,570.64 L854.60,571.86 L853.68,573.10 L852.78,574.36 L851.90,575.65 L851.04,576.95 L850.20,578.28 L849.39,579.63 L848.60,580.99 L847.82,582.38 L847.08,583.79 L846.35,585.22 L845.65,586.66 L844.97,588.13 L844.31,589.61 L843.68,591.12 L843.07,592.64 L842.48,594.18 L841.92,595.73 L841.38,597.31 L840.87,598.90 L840.38,600.51 L839.91,602.14 L839.47,603.78 L839.05,605.44 L838.66,607.12 L838.29,608.81 L837.95,610.52 L837.63,612.25 L837.34,614.00 L837.07,615.77 L836.83,617.55 L836.61,619.35 L836.42,621.18 L836.26,623.03 L836.11,624.91 L836.00,626.82 L835.91,628.76 L835.85,630.76 L835.81,632.83 L835.79,635.14 L835.84,638.70 L835.96,642.11 L836.17,645.45 L836.45,648.75 L836.82,652.01 L837.27,655.22 L837.81,658.41 L838.42,661.55 L839.11,664.65 L839.88,667.72 L840.73,670.74 L841.66,673.71 L842.66,676.64 L843.74,679.52 L844.90,682.34 L846.13,685.11 L847.43,687.83 L848.80,690.48 L850.24,693.08 L851.75,695.61 L853.33,698.07 L854.97,700.47 L856.68,702.79 L858.45,705.05 L860.28,707.22 L862.17,709.33 L864.12,711.35 L866.12,713.29 L868.18,715.15 L870.28,716.92 L872.44,718.61 L874.65,720.21 L876.90,721.72 L879.19,723.15 L881.53,724.48 L883.91,725.71 L886.33,726.85 L888.78,727.90 L891.27,728.85 L893.79,729.70 L896.35,730.45 L898.93,731.11 L901.55,731.66 L904.19,732.12 L906.87,732.47 L909.59,732.73 L912.35,732.88 L915.25,732.93 L918.15,732.88 L920.91,732.73 L923.63,732.47 L926.31,732.12 L928.95,731.66 L931.57,731.11 L934.15,730.45 L936.71,729.70 L939.23,728.85 L941.72,727.90 L944.17,726.85 L946.59,725.71 L948.97,724.48 L951.31,723.15 L953.60,721.72 L955.85,720.21 L958.06,718.61 L960.22,716.92 L962.32,715.15 L964.38,713.29 L966.38,711.35 L968.33,709.33 L970.22,707.22 L972.05,705.05 L973.82,702.79 L975.53,700.47 L977.17,698.07 L978.75,695.61 L980.26,693.08 L981.70,690.48 L983.07,687.83 L984.37,685.11 L985.60,682.34 L986.76,679.52 L987.84,676.64 L988.84,673.71 L989.77,670.74 L990.62,667.72 L991.39,664.65 L992.08,661.55 L992.69,658.41 L993.23,655.22 L993.68,652.01 L994.05,648.75 L994.33,645.45 L994.54,642.11 L994.66,638.70 L994.71,635.14 L994.69,632.83 L994.65,630.76 L994.59,628.76 L994.50,626.82 L994.39,624.91 L994.24,623.03 L994.08,621.18 L993.89,619.35 L993.67,617.55 L993.43,615.77 L993.16,614.00 L992.87,612.25 L992.55,610.52 L992.21,608.81 L991.84,607.12 L991.45,605.44 L991.03,603.78 L990.59,602.14 L990.12,600.51 L989.63,598.90 L989.12,597.31 L988.58,595.73 L988.02,594.18 L987.43,592.64 L986.82,591.12 L986.19,589.61 L985.53,588.13 L984.85,586.66 L984.15,585.22 L983.42,583.79 L982.68,582.38 L981.90,580.99 L981.11,579.63 L980.30,578.28 L979.46,576.95 L978.60,575.65 L977.72,574.36 L976.82,573.10 L975.90,571.86 L974.96,570.64 L974.00,569.45 L973.01,568.28 L972.01,567.13 L970.99,566.00 L969.95,564.90 L968.89,563.82 L967.81,562.77 L966.71,561.74 Z" fill="#fff"/><rect x="866" y="552" width="98" height="16" fill="#fff"/><path d="M855.18,552.93 L853.92,554.03 L852.69,555.16 L851.48,556.31 L850.29,557.49 L849.12,558.70 L847.98,559.93 L846.86,561.18 L845.76,562.46 L844.69,563.77 L843.64,565.10 L842.61,566.45 L841.61,567.83 L840.63,569.23 L839.68,570.66 L838.76,572.10 L837.86,573.57 L836.98,575.07 L836.13,576.58 L835.30,578.12 L834.51,579.68 L833.73,581.26 L832.99,582.86 L832.27,584.48 L831.58,586.13 L830.91,587.79 L830.27,589.48 L829.66,591.18 L829.08,592.91 L828.52,594.65 L827.99,596.42 L827.49,598.21 L827.02,600.02 L826.57,601.84 L826.16,603.69 L825.77,605.56 L825.41,607.45 L825.08,609.37 L824.78,611.31 L824.50,613.27 L824.26,615.26 L824.04,617.28 L823.85,619.33 L823.69,621.41 L823.56,623.54 L823.46,625.72 L823.39,627.98 L823.34,630.35 L823.33,633.05 L823.38,637.59 L823.51,641.75 L823.75,645.76 L824.07,649.67 L824.48,653.51 L824.99,657.28 L825.58,660.99 L826.27,664.63 L827.05,668.22 L827.91,671.75 L828.87,675.22 L829.91,678.63 L831.03,681.97 L832.25,685.25 L833.55,688.47 L834.93,691.61 L836.39,694.69 L837.94,697.69 L839.56,700.63 L841.26,703.48 L843.04,706.26 L844.90,708.95 L846.83,711.57 L848.83,714.10 L850.91,716.54 L853.05,718.90 L855.26,721.16 L857.53,723.33 L859.87,725.41 L862.28,727.40 L864.74,729.28 L867.26,731.07 L869.84,732.75 L872.47,734.34 L875.16,735.82 L877.90,737.19 L880.69,738.47 L883.54,739.63 L886.43,740.68 L889.37,741.63 L892.36,742.47 L895.39,743.20 L898.48,743.81 L901.63,744.32 L904.84,744.71 L908.12,744.99 L911.53,745.16 L915.25,745.22 L918.97,745.16 L922.38,744.99 L925.66,744.71 L928.87,744.32 L932.02,743.81 L935.11,743.20 L938.14,742.47 L941.13,741.63 L944.07,740.68 L946.96,739.63 L949.81,738.47 L952.60,737.19 L955.34,735.82 L958.03,734.34 L960.66,732.75 L963.24,731.07 L965.76,729.28 L968.22,727.40 L970.63,725.41 L972.97,723.33 L975.24,721.16 L977.45,718.90 L979.59,716.54 L981.67,714.10 L983.67,711.57 L985.60,708.95 L987.46,706.26 L989.24,703.48 L990.94,700.63 L992.56,697.69 L994.11,694.69 L995.57,691.61 L996.95,688.47 L998.25,685.25 L999.47,681.97 L1000.59,678.63 L1001.63,675.22 L1002.59,671.75 L1003.45,668.22 L1004.23,664.63 L1004.92,660.99 L1005.51,657.28 L1006.02,653.51 L1006.43,649.67 L1006.75,645.76 L1006.99,641.75 L1007.12,637.59 L1007.17,633.05 L1007.16,630.35 L1007.11,627.98 L1007.04,625.72 L1006.94,623.54 L1006.81,621.41 L1006.65,619.33 L1006.46,617.28 L1006.24,615.26 L1006.00,613.27 L1005.72,611.31 L1005.42,609.37 L1005.09,607.45 L1004.73,605.56 L1004.34,603.69 L1003.93,601.84 L1003.48,600.02 L1003.01,598.21 L1002.51,596.42 L1001.98,594.65 L1001.42,592.91 L1000.84,591.18 L1000.23,589.48 L999.59,587.79 L998.92,586.13 L998.23,584.48 L997.51,582.86 L996.77,581.26 L995.99,579.68 L995.20,578.12 L994.37,576.58 L993.52,575.07 L992.64,573.57 L991.74,572.10 L990.82,570.66 L989.87,569.23 L988.89,567.83 L987.89,566.45 L986.86,565.10 L985.81,563.77 L984.74,562.46 L983.64,561.18 L982.52,559.93 L981.38,558.70 L980.21,557.49 L979.02,556.31 L977.81,555.16 L976.58,554.03 L975.32,552.93 L966.71,561.74 L967.81,562.77 L968.89,563.82 L969.95,564.90 L970.99,566.00 L972.01,567.13 L973.01,568.28 L974.00,569.45 L974.96,570.64 L975.90,571.86 L976.82,573.10 L977.72,574.36 L978.60,575.65 L979.46,576.95 L980.30,578.28 L981.11,579.63 L981.90,580.99 L982.68,582.38 L983.42,583.79 L984.15,585.22 L984.85,586.66 L985.53,588.13 L986.19,589.61 L986.82,591.12 L987.43,592.64 L988.02,594.18 L988.58,595.73 L989.12,597.31 L989.63,598.90 L990.12,600.51 L990.59,602.14 L991.03,603.78 L991.45,605.44 L991.84,607.12 L992.21,608.81 L992.55,610.52 L992.87,612.25 L993.16,614.00 L993.43,615.77 L993.67,617.55 L993.89,619.35 L994.08,621.18 L994.24,623.03 L994.39,624.91 L994.50,626.82 L994.59,628.76 L994.65,630.76 L994.69,632.83 L994.71,635.14 L994.66,638.70 L994.54,642.11 L994.33,645.45 L994.05,648.75 L993.68,652.01 L993.23,655.22 L992.69,658.41 L992.08,661.55 L991.39,664.65 L990.62,667.72 L989.77,670.74 L988.84,673.71 L987.84,676.64 L986.76,679.52 L985.60,682.34 L984.37,685.11 L983.07,687.83 L981.70,690.48 L980.26,693.08 L978.75,695.61 L977.17,698.07 L975.53,700.47 L973.82,702.79 L972.05,705.05 L970.22,707.22 L968.33,709.33 L966.38,711.35 L964.38,713.29 L962.32,715.15 L960.22,716.92 L958.06,718.61 L955.85,720.21 L953.60,721.72 L951.31,723.15 L948.97,724.48 L946.59,725.71 L944.17,726.85 L941.72,727.90 L939.23,728.85 L936.71,729.70 L934.15,730.45 L931.57,731.11 L928.95,731.66 L926.31,732.12 L923.63,732.47 L920.91,732.73 L918.15,732.88 L915.25,732.93 L912.35,732.88 L909.59,732.73 L906.87,732.47 L904.19,732.12 L901.55,731.66 L898.93,731.11 L896.35,730.45 L893.79,729.70 L891.27,728.85 L888.78,727.90 L886.33,726.85 L883.91,725.71 L881.53,724.48 L879.19,723.15 L876.90,721.72 L874.65,720.21 L872.44,718.61 L870.28,716.92 L868.18,715.15 L866.12,713.29 L864.12,711.35 L862.17,709.33 L860.28,707.22 L858.45,705.05 L856.68,702.79 L854.97,700.47 L853.33,698.07 L851.75,695.61 L850.24,693.08 L848.80,690.48 L847.43,687.83 L846.13,685.11 L844.90,682.34 L843.74,679.52 L842.66,676.64 L841.66,673.71 L840.73,670.74 L839.88,667.72 L839.11,664.65 L838.42,661.55 L837.81,658.41 L837.27,655.22 L836.82,652.01 L836.45,648.75 L836.17,645.45 L835.96,642.11 L835.84,638.70 L835.79,635.14 L835.81,632.83 L835.85,630.76 L835.91,628.76 L836.00,626.82 L836.11,624.91 L836.26,623.03 L836.42,621.18 L836.61,619.35 L836.83,617.55 L837.07,615.77 L837.34,614.00 L837.63,612.25 L837.95,610.52 L838.29,608.81 L838.66,607.12 L839.05,605.44 L839.47,603.78 L839.91,602.14 L840.38,600.51 L840.87,598.90 L841.38,597.31 L841.92,595.73 L842.48,594.18 L843.07,592.64 L843.68,591.12 L844.31,589.61 L844.97,588.13 L845.65,586.66 L846.35,585.22 L847.08,583.79 L847.82,582.38 L848.60,580.99 L849.39,579.63 L850.20,578.28 L851.04,576.95 L851.90,575.65 L852.78,574.36 L853.68,573.10 L854.60,571.86 L855.54,570.64 L856.50,569.45 L857.49,568.28 L858.49,567.13 L859.51,566.00 L860.55,564.90 L861.61,563.82 L862.69,562.77 L863.79,561.74 Z" fill="#2b77bc"/><path d="M743,544.4 L748,540.5 L780,539.6 L820,539 L860,538.7 L880,540 L893.3,544.7 L887.9,553.4 L879.1,558.9 L873.6,563.3 L870.3,571 L861.6,580.8 L852.8,588.5 L844.1,596.1 L839.7,600.5 L835.3,599.4 L836.4,592.9 L839.7,586.3 L845.2,578.6 L850.6,571 L856.1,563.3 L860.5,556.7 L866,551.8 L840,551.5 L800,551.2 L760,550.8 L745,550 Z" fill="#f4a97b"/><path d="M933.3,544.1 L940,541.5 L960,540.5 L1000,540.2 L1040,539.8 L1080,539.6 L1087.5,543.4 L1085,546.7 L1030,548.3 L966,549.3 L967.2,555 L976,566 L980.3,574.7 L986.9,583.5 L992.4,591.1 L995.6,598.8 L994.6,603 L991.3,603.2 L976,592.2 L962.8,579 L951.9,563.8 L941,555 Z" fill="#f4a97b"/>
<circle cx="780" cy="513.7" r="18.8" fill="url(#ionG)"/><rect x="773.2" y="513.2" width="13.6" height="2.7" fill="#231f20"/><rect x="778.6" y="507.5" width="2.7" height="14.2" fill="#231f20"/>
<circle cx="852.4" cy="513.7" r="18.8" fill="url(#ionG)"/><rect x="845.6" y="513.2" width="13.6" height="2.7" fill="#231f20"/><rect x="851.0" y="507.5" width="2.7" height="14.2" fill="#231f20"/>
<circle cx="983.4" cy="513.7" r="18.8" fill="url(#ionG)"/><rect x="976.6" y="513.2" width="13.6" height="2.7" fill="#231f20"/><rect x="982.0" y="507.5" width="2.7" height="14.2" fill="#231f20"/>
<circle cx="1048.9" cy="513.7" r="18.8" fill="url(#ionG)"/><rect x="1042.1" y="513.2" width="13.6" height="2.7" fill="#231f20"/><rect x="1047.6" y="507.5" width="2.7" height="14.2" fill="#231f20"/>
<text x="770.7" y="577.4" font-size="28" textLength="13.9" lengthAdjust="spacingAndGlyphs" fill="#231f20" stroke="#231f20" stroke-width="0.35">e</text><rect x="784.6" y="562.4" width="3.4" height="1.5" fill="#231f20"/>
<text x="805.9" y="577.4" font-size="28" textLength="13.9" lengthAdjust="spacingAndGlyphs" fill="#231f20" stroke="#231f20" stroke-width="0.35">e</text><rect x="819.8" y="562.4" width="3.4" height="1.5" fill="#231f20"/>
<text x="1007.8" y="576.9" font-size="28" textLength="13.9" lengthAdjust="spacingAndGlyphs" fill="#231f20" stroke="#231f20" stroke-width="0.35">e</text><rect x="1021.7" y="561.9" width="3.4" height="1.5" fill="#231f20"/>
<text x="1055.1" y="576.9" font-size="28" textLength="13.9" lengthAdjust="spacingAndGlyphs" fill="#231f20" stroke="#231f20" stroke-width="0.35">e</text><rect x="1069.0" y="561.9" width="3.4" height="1.5" fill="#231f20"/>
<line x1="994.7" y1="531.7" x2="1031" y2="773.7" stroke="#231f20" stroke-width="2.6" stroke-dasharray="4.6 3.8"/>
<text x="777.7" y="808.9" textLength="292.6" lengthAdjust="spacingAndGlyphs" font-size="33"><tspan fill="#231f20">IEDL </tspan><tspan fill="#c0262e">outside nanopores</tspan></text>
</svg></body></html>
